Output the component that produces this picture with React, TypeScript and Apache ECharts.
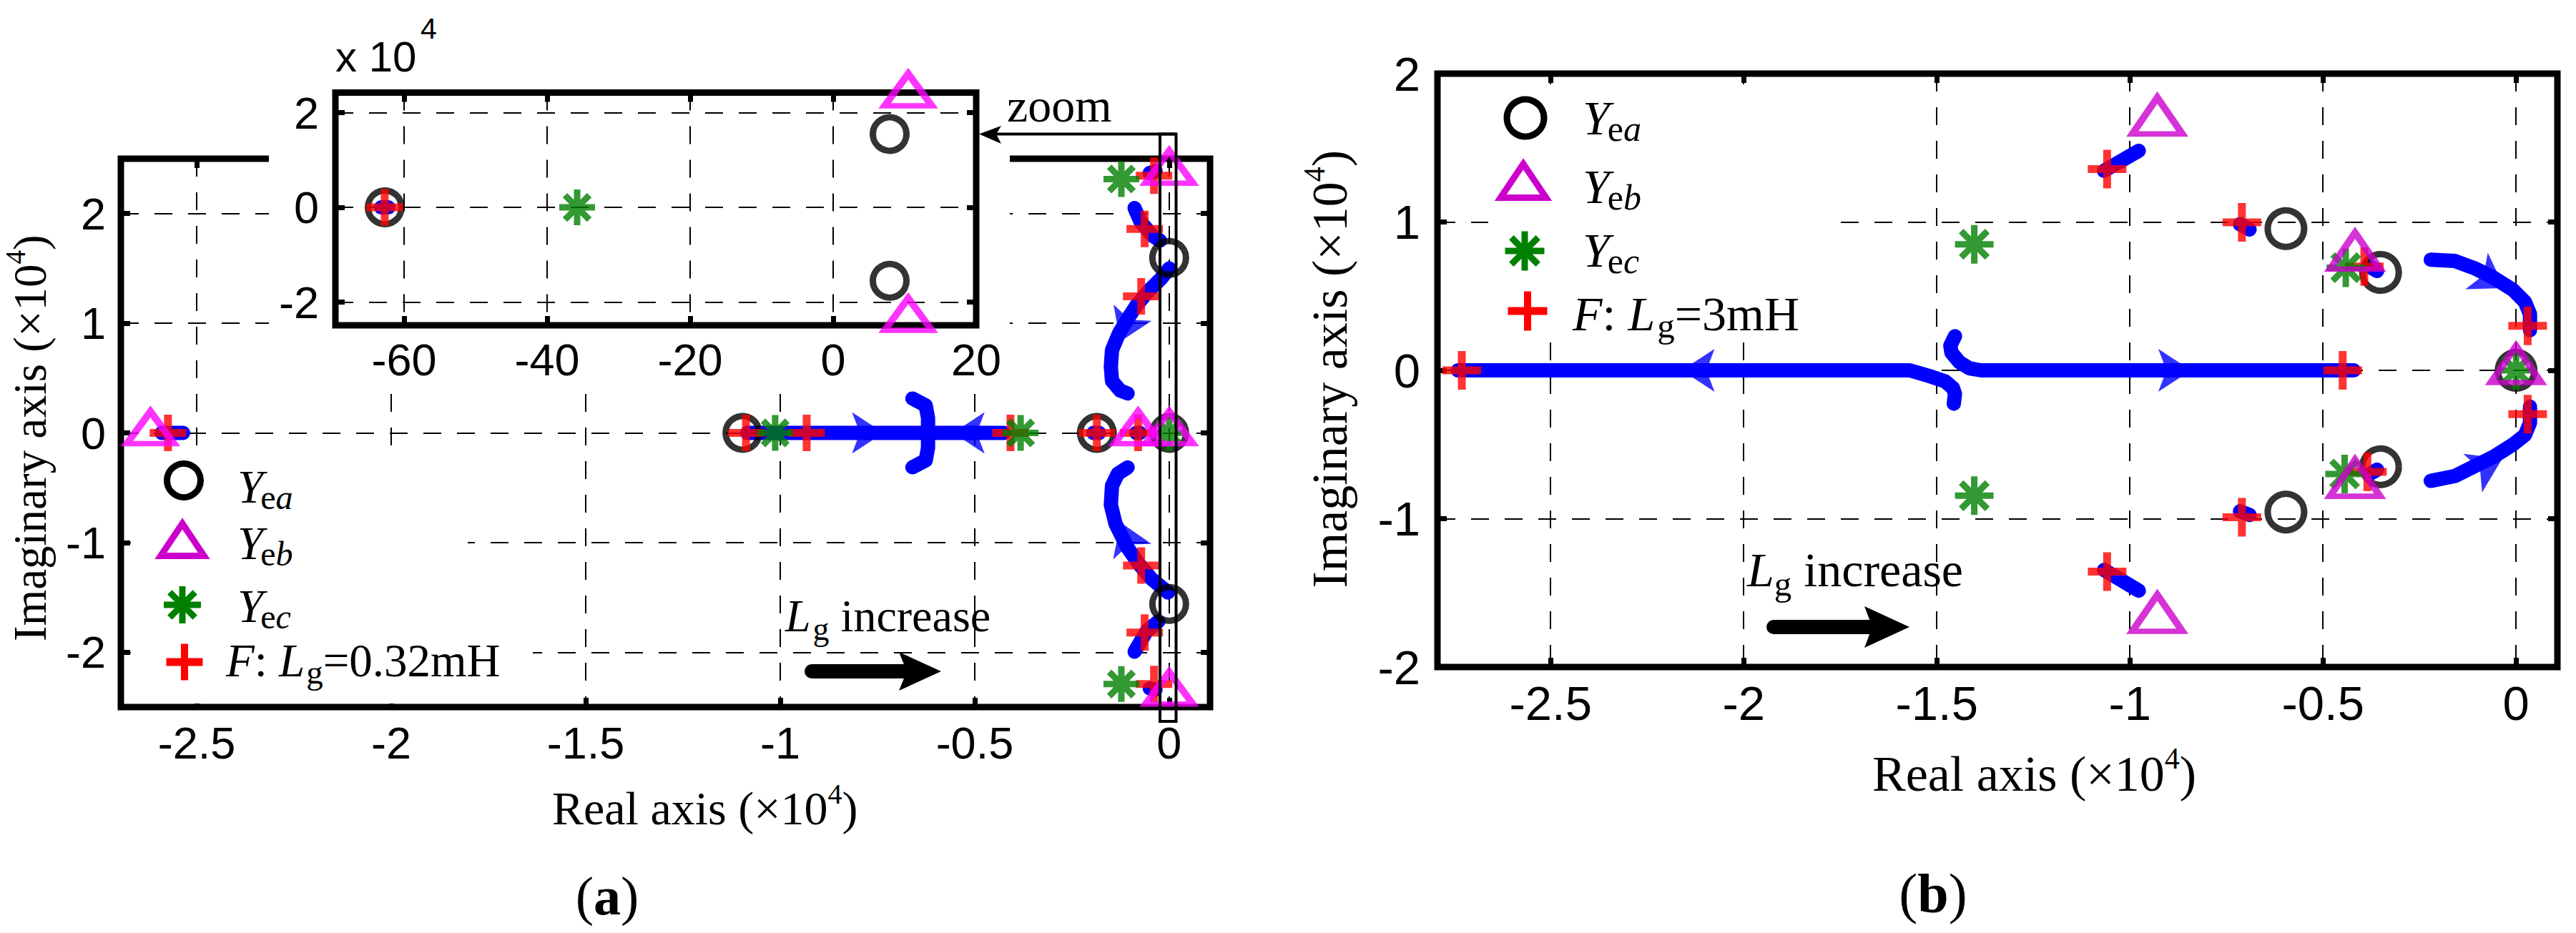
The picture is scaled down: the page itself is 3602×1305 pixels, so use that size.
import React, { useEffect, useRef } from 'react';
import * as echarts from 'echarts';

const SERIF = '"Liberation Serif", "Times New Roman", Times, serif';
const SANS = '"Liberation Sans", Arial, Helvetica, sans-serif';
const BLUE = '#0000FF';
const RED = '#FF0000';
const GREEN = '#008000';
const MAGENTA = '#FF00FF';
const MAGENTA_B = '#CC00CC';
const BLACK = '#000000';

// ---------------- Panel (a) : values in units of 1e4 ----------------
const aXTicks = [-2.5, -2, -1.5, -1, -0.5, 0];
const aYTicks = [-2, -1, 0, 1, 2];
const aYea = [[-1.097, 0], [-0.186, 0], [0, 0], [0, 1.596], [0, -1.56]];
const aYeb = [[-2.619, 0], [-0.08, 0], [0, 0], [0, 2.375], [0, -2.375]];
const aYec = [[-1.013, 0], [-0.382, 0], [0, 0], [-0.123, 2.315], [-0.123, -2.29]];
const aF = [
  [-2.574, 0], [-1.088, 0], [-0.932, 0], [-0.408, 0], [-0.186, 0], [-0.08, 0],
  [-0.039, 2.345], [-0.063, 1.86], [-0.072, 1.245], [-0.072, -1.21], [-0.063, -1.82], [-0.039, -2.29],
];
const aLoci = [
  [[-2.59, 0], [-2.535, 0]],
  [[-1.085, 0], [-0.425, 0]],
  [[-0.66, 0.313], [-0.626, 0.25], [-0.62, 0.137], [-0.62, -0.137], [-0.626, -0.25], [-0.66, -0.313]],
  [[-0.195, 0], [-0.18, 0]],
  [[-0.085, 0], [-0.075, 0]],
  [[-0.089, 2.05], [-0.074, 1.928], [-0.043, 1.798], [-0.024, 1.754]],
  [[0, 1.5], [-0.021, 1.407], [-0.052, 1.298], [-0.083, 1.168], [-0.107, 1.038], [-0.129, 0.908], [-0.147, 0.756], [-0.15, 0.604], [-0.147, 0.474], [-0.126, 0.386], [-0.107, 0.36]],
  [[-0.107, -0.315], [-0.132, -0.373], [-0.147, -0.482], [-0.15, -0.656], [-0.138, -0.829], [-0.107, -1.047], [-0.077, -1.199], [-0.046, -1.329], [-0.003, -1.455]],
  [[-0.028, -1.72], [-0.058, -1.807], [-0.089, -1.995]],
  [[-0.05, 2.37], [-0.035, 2.385]],
  [[-0.05, -2.33], [-0.035, -2.34]],
];
// [x, y, rotation in degrees]
const aArrows = [[-0.775, 0, -90], [-0.515, 0, 90], [-0.11, 0.965, 156.8], [-0.11, -0.95, 22.1]];

// ---------------- Inset of (a): x in plain units, y in 1e4 ----------------
const insXTicks = [-60, -40, -20, 0, 20];
const insYTicks = [-2, 0, 2];
const insYea = [[-62.7, 0], [7.9, 1.55], [7.9, -1.55]];
const insYeb = [[10.5, 2.37], [10.5, -2.37]];
const insYec = [[-35.8, 0]];
const insF = [[-62.7, 0]];
const insLoci = [[[-63.2, 0], [-62.2, 0]]];

// ---------------- Panel (b) : values in units of 1e4 ----------------
const bXTicks = [-2.5, -2, -1.5, -1, -0.5, 0];
const bYTicks = [-2, -1, 0, 1, 2];
const bYea = [[-0.596, 0.955], [-0.596, -0.955], [-0.351, 0.66], [-0.351, -0.65], [0, 0]];
const bYeb = [[-0.929, 1.675], [-0.929, -1.677], [-0.417, 0.764], [-0.417, -0.767], [0, 0]];
const bYec = [[-1.403, 0.85], [-1.403, -0.845], [-0.441, 0.692], [-0.444, -0.699], [0, 0]];
const bF = [
  [-2.73, 0], [-1.059, 1.357], [-1.059, -1.357], [-0.71, 0.997], [-0.71, -0.99],
  [-0.393, 0.7], [-0.385, -0.684], [-0.449, 0], [0.03, 0.3], [0.03, -0.295],
];
const bLoci = [
  [[-2.74, 0], [-1.57, 0], [-1.515, -0.042], [-1.478, -0.075], [-1.458, -0.12], [-1.453, -0.16], [-1.456, -0.225]],
  [[-1.453, 0.23], [-1.465, 0.167], [-1.462, 0.119], [-1.441, 0.054], [-1.416, 0.014], [-1.385, 0], [-0.42, 0]],
  [[-0.221, 0.746], [-0.158, 0.737], [-0.108, 0.689], [-0.058, 0.624], [-0.008, 0.542], [0.023, 0.461], [0.036, 0.379], [0.036, 0.27]],
  [[-0.221, -0.745], [-0.158, -0.712], [-0.108, -0.647], [-0.058, -0.582], [-0.008, -0.5], [0.023, -0.436], [0.036, -0.354], [0.036, -0.245]],
  [[-1.067, 1.345], [-0.977, 1.48]],
  [[-1.067, -1.345], [-0.977, -1.485]],
  [[-0.715, 0.985], [-0.69, 0.95]],
  [[-0.715, -0.95], [-0.69, -0.975]],
  [[-0.38, 0.7], [-0.36, 0.67]],
  [[-0.38, -0.7], [-0.36, -0.67]],
];
const bArrows = [[-2.118, 0, 90], [-0.884, 0, -90], [-0.066, 0.612, -121.5], [-0.074, -0.644, -64.1]];

// ---------------- symbols ----------------
const PLUS = 'path://M5,0L5,10M0,5L10,5';
const STAR = 'path://M5,0L5,10M0,5L10,5M1.6,1.6L8.4,8.4M1.6,8.4L8.4,1.6';
const ARROW = 'path://M5,0L10,10L5,7.5L0,10Z';
const CLEAR = 'rgba(0,0,0,0)';

// ---------------- text helpers ----------------
type Part = { t: string; size: number; italic?: boolean; bold?: boolean; dy?: number; dx?: number; family?: string };
let mctx: CanvasRenderingContext2D | null = null;
function fontOf(p: Part) {
  return `${p.italic ? 'italic ' : ''}${p.bold ? 'bold ' : ''}${p.size}px ${p.family || SERIF}`;
}
function widthOf(p: Part) {
  if (!mctx) mctx = document.createElement('canvas').getContext('2d');
  if (!mctx) return p.t.length * p.size * 0.5;
  mctx.font = fontOf(p);
  return mctx.measureText(p.t).width;
}
function textRun(x: number, baseline: number, parts: Part[], center = false, z = 12) {
  const total = parts.reduce((s, p) => s + widthOf(p) + (p.dx || 0), 0);
  let cx = center ? x - total / 2 : x;
  return parts.map((p) => {
    cx += p.dx || 0;
    const el = {
      type: 'text', z, silent: true,
      style: {
        text: p.t, x: cx, y: baseline + (p.dy || 0) - 0.34 * p.size,
        font: fontOf(p), fill: BLACK, align: 'left', verticalAlign: 'middle',
      },
    };
    cx += widthOf(p);
    return el;
  });
}

// ---------------- graphic marker helpers (legend) ----------------
function gCircle(cx: number, cy: number, outer: number, color: string) {
  return { type: 'circle', z: 12, silent: true, shape: { cx, cy, r: (outer - 9) / 2 }, style: { fill: 'none', stroke: color, lineWidth: 9 } };
}
function gTriangle(cx: number, apex: number, base: number, width: number, color: string) {
  const lw = 9;
  return {
    type: 'polygon', z: 12, silent: true,
    shape: { points: [[cx, apex + lw * 0.7], [cx + width / 2 - lw * 0.8, base - lw / 2], [cx - width / 2 + lw * 0.8, base - lw / 2]] },
    style: { fill: 'none', stroke: color, lineWidth: lw, lineJoin: 'miter' },
  };
}
function gLine(x1: number, y1: number, x2: number, y2: number, color: string, lw: number) {
  return { type: 'line', z: 12, silent: true, shape: { x1, y1, x2, y2 }, style: { stroke: color, lineWidth: lw } };
}
function gPlus(cx: number, cy: number, s: number, color: string) {
  const h = s / 2;
  return [gLine(cx - h, cy, cx + h, cy, color, 11), gLine(cx, cy - h, cx, cy + h, color, 10)];
}
function gStar(cx: number, cy: number, s: number, color: string) {
  const h = s / 2;
  const d = h * 0.68;
  return [
    gLine(cx - h, cy, cx + h, cy, color, 9), gLine(cx, cy - h, cx, cy + h, color, 9),
    gLine(cx - d, cy - d, cx + d, cy + d, color, 9), gLine(cx - d, cy + d, cx + d, cy - d, color, 9),
  ];
}
function bigArrow(x1: number, x2: number, tip: number, y: number, half: number) {
  return [
    { type: 'line', z: 12, silent: true, shape: { x1, y1: y, x2: x2 + 6, y2: y }, style: { stroke: BLACK, lineWidth: 20, lineCap: 'round' } },
    { type: 'polygon', z: 12, silent: true, shape: { points: [[tip, y], [x2 - 2, y - half], [x2 + 9, y], [x2 - 2, y + half]] }, style: { fill: BLACK } },
  ];
}

// ---------------- series helpers ----------------
function lociSeries(segs: number[][][], axis: number, width: number) {
  return segs.map((seg) => ({
    type: 'line', xAxisIndex: axis, yAxisIndex: axis, data: seg, symbol: 'none', showSymbol: false,
    silent: true, clip: false, z: 3, lineStyle: { color: BLUE, width, cap: 'round', join: 'round' },
    emphasis: { disabled: true },
  }));
}
function arrowSeries(arr: number[][], axis: number, size: number[]) {
  return {
    type: 'scatter', xAxisIndex: axis, yAxisIndex: axis, symbol: ARROW, symbolSize: size, z: 3, silent: true, clip: false,
    itemStyle: { color: BLUE }, emphasis: { disabled: true },
    data: arr.map((a) => ({ value: [a[0], a[1]], symbolRotate: a[2] })),
  };
}
type Sizes = { circle: number; tri: number[]; star: number; plus: number; mag: string };
function markerSeries(axis: number, yea: number[][], yeb: number[][], yec: number[][], f: number[][], s: Sizes) {
  const base = { type: 'scatter', xAxisIndex: axis, yAxisIndex: axis, silent: true, clip: false, emphasis: { disabled: true } };
  return [
    { ...base, name: 'Yea', z: 4, data: yea, symbol: 'circle', symbolSize: s.circle, itemStyle: { color: CLEAR, borderColor: BLACK, borderWidth: 9 } },
    { ...base, name: 'F', z: 5, data: f, symbol: PLUS, symbolSize: s.plus, itemStyle: { color: CLEAR, borderColor: RED, borderWidth: 11 } },
    { ...base, name: 'Yec', z: 6, data: yec, symbol: STAR, symbolSize: s.star, itemStyle: { color: CLEAR, borderColor: GREEN, borderWidth: 9 } },
    {
      ...base, name: 'Yeb', z: 7, data: yeb, symbol: 'triangle', symbolSize: s.tri, symbolOffset: [0, -s.tri[1] / 6],
      itemStyle: { color: CLEAR, borderColor: s.mag, borderWidth: 9, borderJoin: 'miter' },
    },
  ];
}

// ---------------- axes helper ----------------
function makeAxes(
  gi: number, xr: number[], xSplit: number, xTicks: number[], yr: number[], ySplit: number, yTicks: number[],
  fontSize: number, xm: number, ym: number, z: number,
) {
  const tick = (vals: number[]) => ({ show: true, inside: true, length: 13, customValues: vals, lineStyle: { color: BLACK, width: 7 } });
  const split = { show: true, lineStyle: { color: BLACK, width: 2, type: [25, 22] } };
  const lab = (m: number, vals: number[]) => ({
    show: true, customValues: vals, margin: m, color: BLACK, fontFamily: SANS, fontSize,
    formatter: (v: number) => String(v),
  });
  const common = { type: 'value', gridIndex: gi, z, axisLine: { show: false, onZero: false } };
  const xs = [
    { ...common, min: xr[0], max: xr[1], splitNumber: xSplit, position: 'bottom', axisTick: tick(xTicks), axisLabel: lab(xm, xTicks), splitLine: split },
    { ...common, min: xr[0], max: xr[1], splitNumber: xSplit, position: 'top', axisTick: tick(xTicks), axisLabel: { show: false }, splitLine: { show: false } },
  ];
  const ys = [
    { ...common, min: yr[0], max: yr[1], splitNumber: ySplit, position: 'left', axisTick: tick(yTicks), axisLabel: lab(ym, yTicks), splitLine: split },
    { ...common, min: yr[0], max: yr[1], splitNumber: ySplit, position: 'right', axisTick: tick(yTicks), axisLabel: { show: false }, splitLine: { show: false } },
  ];
  return { xs, ys };
}

function buildOption() {
  const gridBase = { show: true, borderColor: BLACK, borderWidth: 9, backgroundColor: 'transparent', containLabel: false, outerBoundsMode: 'none' };
  const grid = [
    { ...gridBase, left: 169, top: 222, width: 1523, height: 767, z: 0 },
    { ...gridBase, left: 469, top: 129.5, width: 896, height: 325.5, z: 3 },
    { ...gridBase, left: 2010, top: 103, width: 1566, height: 830, z: 0 },
  ];
  const A = makeAxes(0, [-2.695, 0.105], 6, aXTicks, [-2.5, 2.5], 5, aYTicks, 63, 18, 21, 0);
  const I = makeAxes(1, [-69.6, 20], 4, insXTicks, [-2.49, 2.424], 2, insYTicks, 63, 16, 23, 3);
  const B = makeAxes(2, [-2.793, 0.107], 6, bXTicks, [-2, 2], 4, bYTicks, 67, 17, 24, 0);
  const xAxis = [...A.xs, ...I.xs, ...B.xs];
  const yAxis = [...A.ys, ...I.ys, ...B.ys];

  const sizesA: Sizes = { circle: 47, tri: [66, 45], star: 50, plus: 51, mag: MAGENTA };
  const sizesB: Sizes = { circle: 51, tri: [70, 51], star: 54, plus: 54, mag: MAGENTA_B };

  const series = [
    ...lociSeries(aLoci, 0, 20),
    arrowSeries(aArrows, 0, [58, 44]),
    ...markerSeries(0, aYea, aYeb, aYec, aF, sizesA),
    ...lociSeries(insLoci, 2, 20).map((s) => ({ ...s, z: 8 })),
    ...markerSeries(2, insYea, insYeb, insYec, insF, sizesA).map((s) => ({ ...s, z: (s.z as number) + 5 })),
    ...lociSeries(bLoci, 4, 20),
    arrowSeries(bArrows, 4, [60, 46]),
    ...markerSeries(4, bYea, bYeb, bYec, bF, sizesB),
  ];

  const cover = (x: number, y: number, w: number, h: number) => ({ type: 'rect', z: 1, silent: true, shape: { x, y, width: w, height: h }, style: { fill: '#FFFFFF' } });

  const graphic: any[] = [
    cover(376, 0, 1036, 533),
    cover(183, 628, 471, 356),
    cover(183, 890, 562, 94),
    cover(2081, 118, 471, 360),
    // zoom box and connector
    { type: 'rect', z: 20, silent: true, shape: { x: 1622, y: 187.5, width: 22.5, height: 821.5 }, style: { fill: 'none', stroke: BLACK, lineWidth: 4 } },
    { type: 'line', z: 20, silent: true, shape: { x1: 1644.5, y1: 187.5, x2: 1390, y2: 187.5 }, style: { stroke: BLACK, lineWidth: 4 } },
    { type: 'polygon', z: 20, silent: true, shape: { points: [[1369, 187.5], [1400, 176], [1393, 187.5], [1400, 201]] }, style: { fill: BLACK } },
    ...textRun(1408, 170, [{ t: 'zoom', size: 66 }]),
    // inset multiplier
    ...textRun(469, 100, [{ t: 'x 10', size: 60, family: SANS }]),
    ...textRun(588, 54, [{ t: '4', size: 41, family: SANS }]),
    // Lg increase (a)
    ...textRun(1098, 883, [{ t: 'L', size: 64, italic: true }, { t: 'g', size: 46, dy: 12, dx: 3 }, { t: ' increase', size: 64 }]),
    ...bigArrow(1135, 1259, 1316, 939, 27),
    // Lg increase (b)
    ...textRun(2443, 820, [{ t: 'L', size: 68, italic: true }, { t: 'g', size: 49, dy: 13 }, { t: ' increase', size: 68 }]),
    ...bigArrow(2480, 2609, 2670, 877, 29),
    // axis names (a)
    ...textRun(772, 1153, [{ t: 'Real axis (×10', size: 66 }, { t: '4', size: 40, dy: -29 }, { t: ')', size: 66 }]),
    { type: 'group', x: 64, y: 897, rotation: Math.PI / 2, children: textRun(0, 0, [{ t: 'Imaginary axis (×10', size: 65 }, { t: '4', size: 39, dy: -29 }, { t: ')', size: 65 }]) },
    // axis names (b)
    ...textRun(2618, 1106, [{ t: 'Real axis (×10', size: 70 }, { t: '4', size: 42, dy: -31 }, { t: ')', size: 70 }]),
    { type: 'group', x: 1883, y: 822.5, rotation: Math.PI / 2, children: textRun(0, 0, [{ t: 'Imaginary axis (×10', size: 70 }, { t: '4', size: 42, dy: -31 }, { t: ')', size: 70 }]) },
    // captions
    ...textRun(849, 1279, [{ t: '(', size: 76 }, { t: 'a', size: 76, bold: true }, { t: ')', size: 76 }], true),
    ...textRun(2703, 1276, [{ t: '(', size: 78 }, { t: 'b', size: 78, bold: true }, { t: ')', size: 78 }], true),
    // legend (a)
    gCircle(257, 672, 56, BLACK),
    ...textRun(332, 703, [{ t: 'Y', size: 65, italic: true }, { t: 'e', size: 48, dy: 9, dx: -4 }, { t: 'a', size: 48, italic: true, dy: 9 }]),
    gTriangle(255, 726, 782, 75, MAGENTA_B),
    ...textRun(332, 782, [{ t: 'Y', size: 65, italic: true }, { t: 'e', size: 48, dy: 9, dx: -4 }, { t: 'b', size: 48, italic: true, dy: 9 }]),
    ...gStar(255, 846, 52, GREEN),
    ...textRun(332, 870, [{ t: 'Y', size: 65, italic: true }, { t: 'e', size: 48, dy: 9, dx: -4 }, { t: 'c', size: 48, italic: true, dy: 9 }]),
    ...gPlus(258, 926, 51, RED),
    ...textRun(316, 946, [{ t: 'F', size: 65, italic: true }, { t: ': ', size: 65 }, { t: 'L', size: 65, italic: true }, { t: 'g', size: 47, dy: 10, dx: 2 }, { t: '=0.32mH', size: 65 }]),
    // legend (b)
    gCircle(2133, 165, 61, BLACK),
    ...textRun(2213, 188, [{ t: 'Y', size: 68, italic: true }, { t: 'e', size: 50, dy: 9, dx: -3 }, { t: 'a', size: 50, italic: true, dy: 9 }]),
    gTriangle(2130, 223, 281, 78, MAGENTA_B),
    ...textRun(2213, 284, [{ t: 'Y', size: 68, italic: true }, { t: 'e', size: 50, dy: 9, dx: -3 }, { t: 'b', size: 50, italic: true, dy: 9 }]),
    ...gStar(2132, 351, 55, GREEN),
    ...textRun(2213, 373, [{ t: 'Y', size: 68, italic: true }, { t: 'e', size: 50, dy: 9, dx: -3 }, { t: 'c', size: 50, italic: true, dy: 9 }]),
    ...gPlus(2136, 435, 55, RED),
    ...textRun(2199, 462, [{ t: 'F', size: 68, italic: true }, { t: ': ', size: 68 }, { t: 'L', size: 68, italic: true }, { t: 'g', size: 49, dy: 10, dx: 3 }, { t: '=3mH', size: 68 }]),
  ];

  return {
    animation: false,
    backgroundColor: '#FFFFFF',
    grid,
    xAxis,
    yAxis,
    series,
    graphic: { elements: graphic },
  };
}

export default function App() {
  const ref = useRef<HTMLDivElement>(null);
  useEffect(() => {
    if (!ref.current) return undefined;
    const chart = echarts.init(ref.current, undefined, { renderer: 'svg' });
    chart.setOption(buildOption() as any);
    return () => chart.dispose();
  }, []);
  return (
    <div
      ref={ref}
      style={{ position: 'fixed', left: 0, top: 0, width: 3602, height: 1305, background: '#FFFFFF' }}
    />
  );
}
